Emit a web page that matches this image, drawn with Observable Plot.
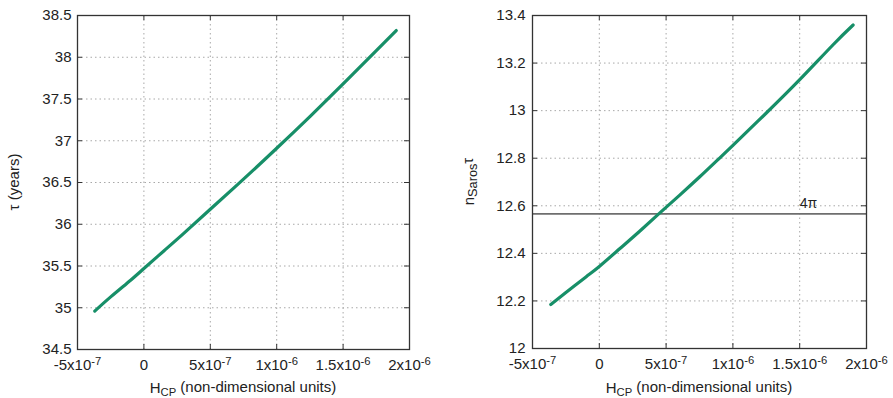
<!DOCTYPE html>
<html>
<head>
<meta charset="utf-8">
<script src="https://cdn.jsdelivr.net/npm/d3@7"></script>
<script src="https://cdn.jsdelivr.net/npm/@observablehq/plot@0.6"></script>
<style>
  html, body { margin: 0; padding: 0; background: #fff; }
  #wrap { display: flex; width: 893px; height: 398px; }
  svg text { font-family: "Liberation Sans", Arial, Helvetica, sans-serif; }
</style>
</head>
<body>
<div id="wrap"></div>
<script>
// ---- data ----
const hcpTau = [-3.7e-7, -2.5e-7, -1e-7, 0, 1.5e-7, 3e-7, 5e-7, 7.5e-7, 1e-6, 1.25e-6, 1.5e-6, 1.75e-6, 1.9e-6];
const tauYears = [34.96, 35.13, 35.33, 35.47, 35.68, 35.89, 36.18, 36.54, 36.91, 37.29, 37.68, 38.08, 38.32];

const hcpSaros = [-3.63e-7, -2.5e-7, -1e-7, 0, 1.5e-7, 3e-7, 4.45e-7, 6e-7, 7.5e-7, 8.9e-7, 1e-6, 1.25e-6, 1.5e-6, 1.75e-6, 1.9e-6];
const nSarosTau = [12.185, 12.235, 12.301, 12.345, 12.418, 12.492, 12.566, 12.644, 12.721, 12.795, 12.854, 12.99, 13.13, 13.277, 13.36];

const fourPi = [4 * Math.PI];
const fourPiLabel = "4π";
const fourPiLabelX = [1.565e-6];

const xTicks = [-5e-7, 0, 5e-7, 1e-6, 1.5e-6, 2e-6];
const xTickLabels = ["-5x10^-7", "0", "5x10^-7", "1x10^-6", "1.5x10^-6", "2x10^-6"];
const yTicksTau = [34.5, 35, 35.5, 36, 36.5, 37, 37.5, 38, 38.5];
const yTickLabelsTau = ["34.5", "35", "35.5", "36", "36.5", "37", "37.5", "38", "38.5"];
const yTicksSaros = [12, 12.2, 12.4, 12.6, 12.8, 13, 13.2, 13.4];
const yTickLabelsSaros = ["12", "12.2", "12.4", "12.6", "12.8", "13", "13.2", "13.4"];

// ---- styles ----
const lineColor = "#178f68";
const gridColor = "#a8a8a8";
const frameColor = "#333";
const textColor = "#222";
const fontFamily = '"Liberation Sans", Arial, Helvetica, sans-serif';

function makePanel(cfg) {
  const innerW = cfg.width - cfg.marginLeft - cfg.marginRight;
  const innerH = cfg.height - cfg.marginTop - cfg.marginBottom;
  const pts = cfg.xs.map((x, i) => ({x, y: cfg.ys[i]}));
  const marks = [
    Plot.gridX(xTicks, {stroke: gridColor, strokeOpacity: 1, strokeDasharray: "1.5,3"}),
    Plot.gridY(cfg.yTicks, {stroke: gridColor, strokeOpacity: 1, strokeDasharray: "1.5,3"}),
    // inward ticks on all four sides
    Plot.ruleX(xTicks, {x: d => d, insetTop: innerH - 5, stroke: frameColor}),
    Plot.ruleX(xTicks, {x: d => d, insetBottom: innerH - 5, stroke: frameColor}),
    Plot.ruleY(cfg.yTicks, {y: d => d, insetRight: innerW - 5, stroke: frameColor}),
    Plot.ruleY(cfg.yTicks, {y: d => d, insetLeft: innerW - 5, stroke: frameColor}),
    Plot.axisX({ticks: xTicks, tickSize: 0, tickPadding: 10, label: null,
      tickFormat: d => xTickLabels[xTicks.indexOf(d)], fill: textColor}),
    Plot.axisY({ticks: cfg.yTicks, tickSize: 0, tickPadding: cfg.yPad, label: null,
      tickFormat: d => cfg.yLabels[cfg.yTicks.indexOf(d)], fill: textColor})
  ];
  if (cfg.extra) marks.push(...cfg.extra);
  marks.push(
    Plot.frame({stroke: frameColor, strokeWidth: 1.3}),
    Plot.line(pts, {x: "x", y: "y", curve: "natural", stroke: lineColor, strokeWidth: 3.2, strokeLinecap: "round"})
  );
  const svg = Plot.plot({
    width: cfg.width,
    height: cfg.height,
    marginLeft: cfg.marginLeft,
    marginRight: cfg.marginRight,
    marginTop: cfg.marginTop,
    marginBottom: cfg.marginBottom,
    x: {domain: [xTicks[0], xTicks[xTicks.length - 1]], axis: null},
    y: {domain: [cfg.yTicks[0], cfg.yTicks[cfg.yTicks.length - 1]], axis: null},
    style: {fontSize: "15px", fontFamily, color: textColor, background: "#fff", overflow: "visible"},
    marks
  });

  // superscripts in tick labels
  d3.select(svg).selectAll("text").each(function() {
    const t = this.textContent;
    if (t.includes("^")) {
      const [base, exp] = t.split("^");
      const sel = d3.select(this);
      sel.text(base);
      sel.append("tspan").attr("dy", "-0.45em").attr("font-size", "0.75em").text(exp);
    }
  });

  const s = d3.select(svg);
  // x title
  const xt = s.append("text")
    .attr("x", cfg.marginLeft + innerW / 2)
    .attr("y", cfg.height - 5)
    .attr("text-anchor", "middle")
    .attr("fill", textColor)
    .attr("font-size", 15)
    .attr("font-family", fontFamily);
  xt.append("tspan").text("H");
  xt.append("tspan").attr("dy", "0.3em").attr("font-size", "0.75em").text("CP");
  xt.append("tspan").attr("dy", "-0.3em").text(" (non-dimensional units)");

  // y title
  const yt = s.append("text")
    .attr("transform", `translate(${cfg.yTitleX},${cfg.marginTop + innerH / 2}) rotate(-90)`)
    .attr("text-anchor", "middle")
    .attr("fill", textColor)
    .attr("font-size", 15)
    .attr("font-family", fontFamily);
  cfg.yTitle(yt);
  return svg;
}

const wrap = document.getElementById("wrap");

wrap.appendChild(makePanel({
  width: 446, height: 398,
  marginLeft: 77, marginRight: 37, marginTop: 15, marginBottom: 49,
  xs: hcpTau, ys: tauYears,
  yTicks: yTicksTau, yLabels: yTickLabelsTau, yPad: 6,
  yTitleX: 19,
  yTitle: t => t.text("τ (years)")
}));

wrap.appendChild(makePanel({
  width: 447, height: 398,
  marginLeft: 86, marginRight: 27, marginTop: 15, marginBottom: 50,
  xs: hcpSaros, ys: nSarosTau,
  yTicks: yTicksSaros, yLabels: yTickLabelsSaros, yPad: 7,
  yTitleX: 28,
  extra: [
    Plot.ruleY(fourPi, {stroke: "#6e6e6e", strokeWidth: 1.8}),
    Plot.text(fourPi, {x: () => fourPiLabelX[0], y: d => d, text: () => fourPiLabel, dy: -10, fontSize: 14, fill: textColor})
  ],
  yTitle: t => {
    t.append("tspan").text("n");
    t.append("tspan").attr("dy", "0.25em").attr("font-size", "0.85em").text("Saros");
    t.append("tspan").attr("dy", "-0.25em").text("τ");
  }
}));
</script>
</body>
</html>
